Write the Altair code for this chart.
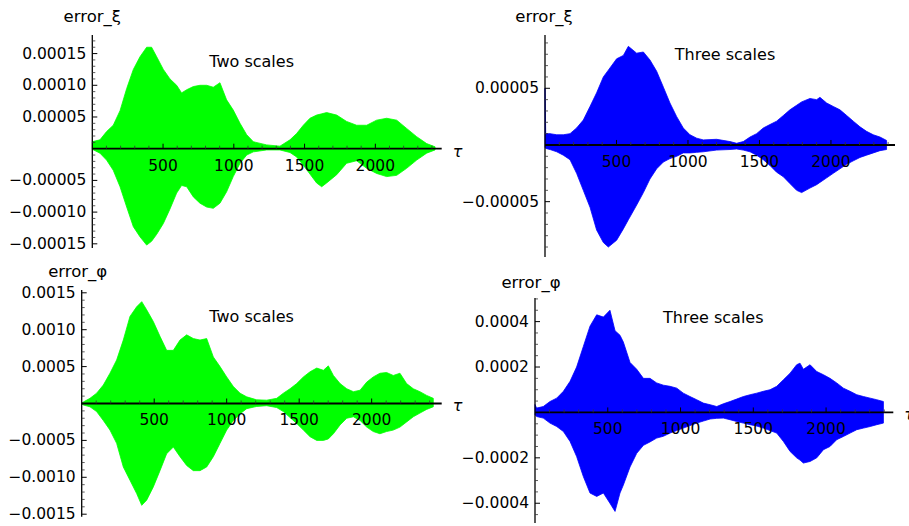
import altair as alt
import pandas as pd

# ---------------- data ----------------
# top-left: error_xi, two scales (values in units of 1e-5)
tl_tau = [0, 54, 101, 148, 196, 243, 290, 337, 384, 419, 455, 502, 549, 596, 631, 667, 714, 761,
          808, 855, 902, 949, 996, 1044, 1091, 1138, 1232, 1326, 1397, 1444, 1491, 1538, 1585,
          1621, 1656, 1727, 1797, 1868, 1939, 2009, 2080, 2151, 2221, 2292, 2363, 2422]
tl_hi = [1.1, 1.4, 2.7, 3.7, 6.0, 9.5, 12.5, 14.5, 16.0, 16.0, 14.5, 12.5, 11.0, 10.0, 8.8, 9.3,
         9.8, 10.0, 10.0, 9.7, 10.4, 7.7, 6.1, 4.0, 2.2, 1.1, 0.6, 0.4, 1.4, 2.4, 3.7, 4.8, 5.3,
         5.5, 5.7, 5.3, 4.3, 3.7, 3.7, 4.5, 4.8, 4.5, 3.2, 1.9, 0.8, 0.3]
tl_lo = [-0.1, -0.7, -1.8, -3.4, -6.0, -9.2, -12.3, -13.9, -15.2, -14.6, -13.5, -11.8, -9.5, -7.0,
         -5.8, -6.0, -7.6, -8.6, -9.2, -9.4, -8.6, -6.8, -4.4, -2.3, -1.0, -0.5, -0.2, -0.2, -0.6,
         -1.3, -2.6, -4.0, -5.4, -6.0, -5.4, -4.1, -2.3, -1.9, -3.1, -3.9, -4.4, -4.2, -3.1, -1.8,
         -0.7, -0.2]

# top-right: error_xi, three scales (units of 1e-5)
tr_tau = [0, 5, 35, 82, 128, 175, 221, 268, 315, 361, 408, 443, 501, 548, 583, 641, 688, 734, 781,
          828, 874, 921, 967, 1014, 1061, 1107, 1200, 1294, 1340, 1387, 1434, 1480, 1527, 1573,
          1620, 1667, 1713, 1760, 1795, 1853, 1900, 1923, 1970, 2016, 2063, 2110, 2156, 2203,
          2249, 2296, 2343, 2389]
tr_hi = [5.0, 1.0, 1.0, 0.9, 0.9, 1.0, 1.5, 2.2, 3.4, 4.6, 6.0, 6.6, 7.6, 7.9, 8.7, 8.1, 8.2, 7.5,
         6.5, 5.1, 3.7, 2.5, 1.5, 0.9, 0.6, 0.45, 0.5, 0.3, 0.15, 0.3, 0.7, 1.0, 1.5, 1.8, 2.1,
         2.6, 3.1, 3.5, 3.8, 4.1, 4.0, 4.2, 3.7, 3.4, 3.1, 2.6, 2.1, 1.6, 1.2, 0.9, 0.7, 0.4]
tr_lo = [-0.2, -0.3, -0.4, -0.6, -0.9, -1.3, -2.5, -4.0, -5.5, -7.5, -8.6, -9.0, -8.4, -7.4, -6.6,
         -5.3, -4.2, -3.0, -2.1, -1.5, -1.2, -1.0, -0.7, -0.7, -0.65, -0.6, -0.45, -0.4, -0.35,
         -0.45, -0.6, -0.9, -1.3, -1.8, -2.4, -2.8, -3.4, -4.0, -4.2, -3.8, -3.5, -3.3, -2.9,
         -2.5, -2.1, -1.7, -1.4, -1.1, -0.9, -0.7, -0.5, -0.4]

# bottom-left: error_phi, two scales (units of 1e-4)
bl_tau = [0, 11, 57, 103, 149, 195, 241, 287, 333, 379, 414, 448, 494, 540, 586, 632, 678, 724,
          770, 816, 862, 908, 954, 1000, 1046, 1092, 1138, 1207, 1276, 1345, 1391, 1437, 1483,
          1529, 1575, 1621, 1667, 1701, 1736, 1782, 1828, 1874, 1920, 1966, 2011, 2057, 2103,
          2149, 2195, 2241, 2287, 2333, 2379, 2425]
bl_hi = [0.05, 0.2, 0.7, 1.4, 2.5, 4.1, 5.9, 8.6, 11.8, 13.1, 13.8, 12.7, 11.1, 9.1, 7.2, 7.2, 8.6,
         9.3, 8.8, 8.6, 8.8, 6.3, 5.0, 3.6, 2.3, 1.4, 0.9, 0.5, 0.45, 0.7, 1.4, 2.0, 2.7, 3.6,
         4.3, 4.8, 4.5, 5.1, 3.8, 2.7, 2.0, 1.6, 1.8, 2.9, 3.6, 4.1, 4.2, 3.8, 4.1, 2.7, 2.0,
         1.6, 1.1, 0.7]
bl_lo = [-0.05, -0.2, -0.45, -1.1, -2.3, -3.6, -5.4, -8.6, -10.4, -12.2, -13.8, -13.1, -11.3,
         -9.1, -6.8, -5.9, -7.2, -8.4, -9.1, -9.1, -8.6, -7.2, -5.4, -3.6, -2.3, -1.4, -0.7,
         -0.4, -0.3, -0.55, -1.1, -1.9, -2.7, -3.6, -4.5, -5.0, -5.0, -4.8, -4.1, -2.9, -2.0,
         -1.8, -2.3, -3.2, -3.8, -4.1, -3.8, -3.6, -3.2, -2.5, -1.8, -1.3, -0.8, -0.45]

# bottom-right: error_phi, three scales (units of 1e-4)
br_tau = [0, 11, 57, 103, 149, 195, 241, 286, 332, 378, 424, 470, 515, 550, 584, 607, 653, 699,
          745, 790, 836, 882, 928, 974, 1019, 1065, 1111, 1157, 1203, 1249, 1294, 1340, 1386,
          1432, 1478, 1524, 1569, 1615, 1661, 1707, 1753, 1798, 1821, 1844, 1890, 1936, 1982,
          2027, 2073, 2119, 2165, 2211, 2257, 2303, 2348, 2394]
br_hi = [0.35, 0.19, 0.26, 0.48, 0.63, 0.93, 1.37, 2.0, 2.9, 3.8, 4.3, 4.2, 4.5, 3.6, 3.4, 3.1,
         2.2, 1.9, 1.5, 1.5, 1.3, 1.2, 1.15, 1.07, 0.85, 0.7, 0.56, 0.41, 0.34, 0.26, 0.38, 0.48,
         0.59, 0.7, 0.78, 0.85, 0.93, 1.0, 1.15, 1.44, 1.73, 2.1, 2.17, 1.9, 2.1, 1.8, 1.66, 1.5,
         1.3, 1.07, 0.93, 0.78, 0.7, 0.63, 0.56, 0.48]
br_lo = [-0.1, -0.18, -0.25, -0.47, -0.62, -0.84, -1.28, -1.94, -2.82, -3.55, -3.7, -3.55, -4.0,
         -4.36, -3.55, -3.2, -2.4, -1.8, -1.45, -1.3, -1.13, -1.05, -0.91, -0.8, -0.69, -0.58,
         -0.47, -0.38, -0.29, -0.26, -0.25, -0.32, -0.4, -0.47, -0.54, -0.6, -0.69, -0.8, -0.91,
         -1.28, -1.72, -2.0, -2.1, -2.23, -2.16, -2.0, -1.64, -1.5, -1.2, -1.06, -0.91, -0.76,
         -0.69, -0.62, -0.54, -0.47]

# tick labels
x_major = [500, 1000, 1500, 2000]
x_major_labels = ["500", "1000", "1500", "2000"]
tl_yticks = [0.00015, 0.00010, 0.00005, -0.00005, -0.00010, -0.00015]
tl_ylabels = ["0.00015", "0.00010", "0.00005", "\u22120.00005", "\u22120.00010", "\u22120.00015"]
tr_yticks = [0.00005, -0.00005]
tr_ylabels = ["0.00005", "\u22120.00005"]
bl_yticks = [0.0015, 0.0010, 0.0005, -0.0005, -0.0010, -0.0015]
bl_ylabels = ["0.0015", "0.0010", "0.0005", "\u22120.0005", "\u22120.0010", "\u22120.0015"]
br_yticks = [0.0004, 0.0002, -0.0002, -0.0004]
br_ylabels = ["0.0004", "0.0002", "\u22120.0002", "\u22120.0004"]

GREEN = "#00ff00"
BLUE = "#0000ff"
FONT = "DejaVu Sans"


def panel(tau, hi, lo, unit, color, geo, yticks, ylabels, yminor_step, title, title_at,
          ylab, ylab_off, show_tau=True):
    xs = alt.Scale(domain=[0, geo["xmax"]], range=[geo["x0"], geo["x1"]], nice=False, zero=False)
    ys = alt.Scale(domain=[geo["ymin"], geo["ymax"]], range=[geo["ybot"], geo["ytop"]],
                   nice=False, zero=False)

    def X(f):
        return alt.X(f, type="quantitative", scale=xs, axis=None)

    def Y(f):
        return alt.Y(f, type="quantitative", scale=ys, axis=None)

    out = []
    d = pd.DataFrame({"t": tau, "hi": [v * unit for v in hi], "lo": [v * unit for v in lo]})
    out.append(alt.Chart(d).mark_area(color=color, opacity=1, interpolate="linear",
                                      stroke=color, strokeWidth=0.8)
               .encode(x=X("t"), y=Y("lo"), y2="hi"))

    # axis lines
    ax = pd.DataFrame({"a": [0], "b": [geo["xmax"]], "z": [0]})
    out.append(alt.Chart(ax).mark_rule(color="black", strokeWidth=1.8)
               .encode(x=X("a"), x2="b", y=Y("z")))
    ay = pd.DataFrame({"z": [0], "lo": [geo["ymin"]], "hi": [geo["ymax"]]})
    out.append(alt.Chart(ay).mark_rule(color="black", strokeWidth=1.3)
               .encode(x=X("z"), y=Y("lo"), y2="hi"))

    # x ticks
    xminor = [v for v in range(100, int(geo["xmax"]) + 1, 100) if v % 500 != 0]
    xt = pd.DataFrame({"t": x_major, "z": 0, "lab": x_major_labels})
    xm = pd.DataFrame({"t": xminor, "z": 0})
    out.append(alt.Chart(xt).mark_rule(color="black", strokeWidth=1, y2Offset=-5)
               .encode(x=X("t"), y=Y("z"), y2="z"))
    out.append(alt.Chart(xm).mark_rule(color="#333333", strokeWidth=0.8, y2Offset=-3)
               .encode(x=X("t"), y=Y("z"), y2="z"))
    out.append(alt.Chart(xt).mark_text(font=FONT, fontSize=15.5, dy=17, align="center",
                                       baseline="middle", color="black")
               .encode(x=X("t"), y=Y("z"), text="lab"))

    # y ticks
    n0 = int(round(geo["ymin"] / yminor_step)) - 1
    n1 = int(round(geo["ymax"] / yminor_step)) + 1
    ymin_list = []
    for k in range(n0, n1 + 1):
        v = k * yminor_step
        if geo["ymin"] <= v <= geo["ymax"] and k != 0 and \
                all(abs(v - m) > yminor_step / 10 for m in yticks):
            ymin_list.append(v)
    yt = pd.DataFrame({"v": yticks, "z": 0, "lab": ylabels})
    ym = pd.DataFrame({"v": ymin_list, "z": 0})
    out.append(alt.Chart(yt).mark_rule(color="black", strokeWidth=1, x2Offset=5)
               .encode(y=Y("v"), x=X("z"), x2="z"))
    out.append(alt.Chart(ym).mark_rule(color="#333333", strokeWidth=0.8, x2Offset=3)
               .encode(y=Y("v"), x=X("z"), x2="z"))
    out.append(alt.Chart(yt).mark_text(font=FONT, fontSize=15.5, dx=-6, align="right",
                                       baseline="middle", color="black")
               .encode(x=X("z"), y=Y("v"), text="lab"))

    # axis labels
    if show_tau:
        tl = pd.DataFrame({"t": [geo["xmax"]], "z": [0], "lab": ["\u03c4"]})
        out.append(alt.Chart(tl).mark_text(font=FONT, fontSize=16, fontStyle="italic", dx=11,
                                           dy=3, align="left", baseline="middle", color="black")
                   .encode(x=X("t"), y=Y("z"), text="lab"))
    yl = pd.DataFrame({"z": [0], "v": [geo["ymax"]], "lab": [ylab]})
    out.append(alt.Chart(yl).mark_text(font=FONT, fontSize=16.5, dx=ylab_off[0], dy=ylab_off[1],
                                       align="center", baseline="middle", color="black")
               .encode(x=X("z"), y=Y("v"), text="lab"))

    # panel title
    tt = pd.DataFrame({"t": [title_at[0]], "v": [title_at[1]], "lab": [title]})
    out.append(alt.Chart(tt).mark_text(font=FONT, fontSize=16, align="center",
                                       baseline="middle", color="black")
               .encode(x=X("t"), y=Y("v"), text="lab"))
    return out


geo_tl = dict(x0=92.3, x1=441.7, xmax=2469, ytop=35, ybot=248, ymin=-1.566e-4, ymax=1.793e-4)
geo_tr = dict(x0=545, x1=895, xmax=2448, ytop=35, ybot=257, ymin=-9.88e-5, ymax=9.70e-5)
geo_bl = dict(x0=81.7, x1=441.7, xmax=2483, ytop=290, ybot=516.7, ymin=-1.534e-3, ymax=1.538e-3)
geo_br = dict(x0=535, x1=893.3, xmax=2462, ytop=298, ybot=523, ymin=-4.87e-4, ymax=5.04e-4)

layers = []
layers += panel(tl_tau, tl_hi, tl_lo, 1e-5, GREEN, geo_tl, tl_yticks, tl_ylabels, 1e-5,
                "Two scales", (1126, 1.372e-4), "error_\u03be", (0, -18))
layers += panel(tr_tau, tr_hi, tr_lo, 1e-5, BLUE, geo_tr, tr_yticks, tr_ylabels, 1e-5,
                "Three scales", (1259, 7.94e-5), "error_\u03be", (-1, -18), show_tau=False)
layers += panel(bl_tau, bl_hi, bl_lo, 1e-4, GREEN, geo_bl, bl_yticks, bl_ylabels, 1e-4,
                "Two scales", (1172, 1.176e-3), "error_\u03c6", (-4, -18))
layers += panel(br_tau, br_hi, br_lo, 1e-4, BLUE, geo_br, br_yticks, br_ylabels, 5e-5,
                "Three scales", (1225, 4.15e-4), "error_\u03c6", (-4, -15))

chart = (
    alt.layer(*layers)
    .resolve_scale(x="independent", y="independent")
    .properties(width=909, height=526, padding=0, autosize=alt.AutoSizeParams(type="none"),
                background="white")
    .configure_view(strokeWidth=0)
)

chart.save("out.html", embed_options={"renderer": "svg", "actions": False})
